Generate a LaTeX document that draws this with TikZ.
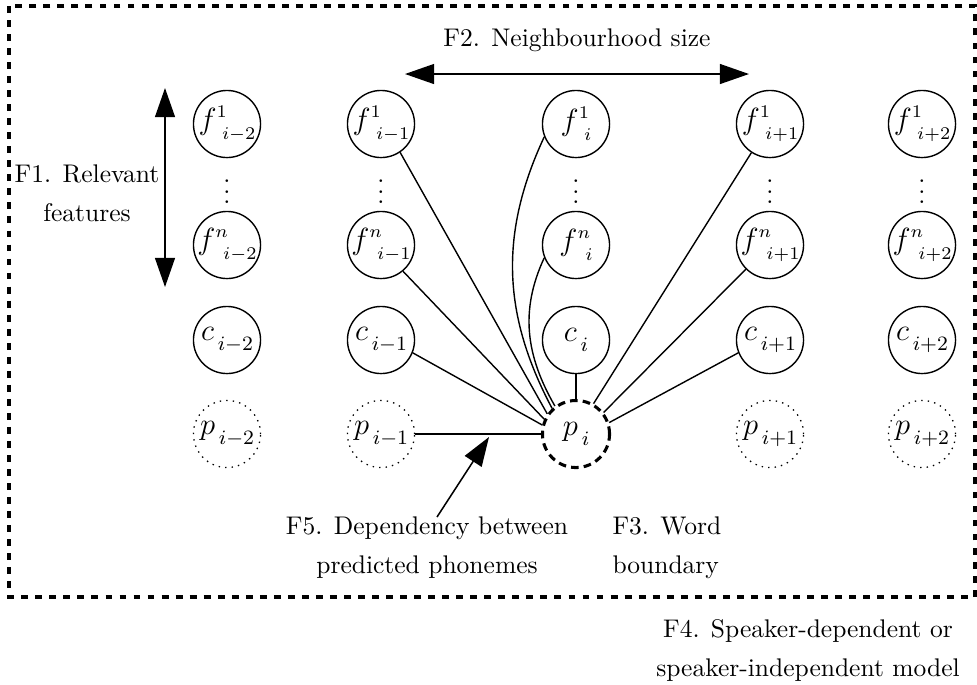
\documentclass[tikz,border=0pt]{standalone}
\usetikzlibrary{arrows.meta}
\newcommand\smallmath[1]{{\fontsize{7}{8}\selectfont$\medmuskip=0mu\thinmuskip=0mu #1$}}
\newcommand\fsub[2]{\makebox[0pt]{$f\/\raisebox{4.7pt}{\smallmath{#1}}\kern-1.9pt\raisebox{-4pt}{\smallmath{#2}}$}}
\newcommand\lsub[2]{\makebox[0pt]{$#1\kern1.5pt\raisebox{-4.2pt}{$\scriptstyle #2$}$}}
\begin{document}
\begin{tikzpicture}[x=0.392pt,y=-0.392pt,
  var/.style={circle,draw,line width=0.55pt,minimum size=26.3pt,inner sep=0pt,font=\large},
  pred/.style={var,dotted,line width=0.5pt},
  target/.style={var,line width=1.2pt,dash pattern=on 3pt off 2pt},
  dots/.style={inner sep=0pt},
  link/.style={line width=0.55pt},
  bigarrow/.style={line width=0.6pt,{Triangle[length=11.4pt,width=7.8pt]}-{Triangle[length=11.4pt,width=7.8pt]}},
  onearrow/.style={line width=0.6pt,-{Triangle[length=11.4pt,width=7.8pt]}},
  lbl/.style={align=center,font=\fontsize{10}{15.3}\selectfont,inner sep=0pt},
  frame/.style={line width=1.2pt,dash pattern=on 2.7pt off 2.8pt}]
\useasboundingbox (0,0) rectangle (977,684);
\draw[frame] (9,6) rectangle (975,597);

% column 1 (i-2)
\node[var]  (fa1) at (227,124) {\fsub{1}{i-2}};
\node[dots] (da)  at (227,184) {$\vdots$};
\node[var]  (fan) at (227,245) {\fsub{n}{i-2}};
\node[var]  (ca)  at (227,340) {\lsub{c}{i-2}};
\node[pred] (pa)  at (227,434) {\lsub{p}{i-2}};
% column 2 (i-1)
\node[var]  (fb1) at (381,124) {\fsub{1}{i-1}};
\node[dots] (db)  at (381,184) {$\vdots$};
\node[var]  (fbn) at (381,245) {\fsub{n}{i-1}};
\node[var]  (cb)  at (381,340) {\lsub{c}{i-1}};
\node[pred] (pb)  at (381,434) {\lsub{p}{i-1}};
% column 3 (i)
\node[var]  (fc1) at (576,124) {\fsub{1}{i}};
\node[dots] (dc)  at (576,184) {$\vdots$};
\node[var]  (fcn) at (576,245) {\fsub{n}{i}};
\node[var]  (cc)  at (576,340) {\lsub{c}{i}};
\node[target] (pc) at (576,434) {\lsub{p}{i}};
% column 4 (i+1)
\node[var]  (fd1) at (770,124) {\fsub{1}{i+1}};
\node[dots] (dd)  at (770,184) {$\vdots$};
\node[var]  (fdn) at (770,245) {\fsub{n}{i+1}};
\node[var]  (cd)  at (770,340) {\lsub{c}{i+1}};
\node[pred] (pd)  at (770,434) {\lsub{p}{i+1}};
% column 5 (i+2)
\node[var]  (fe1) at (922,124) {\fsub{1}{i+2}};
\node[dots] (de)  at (922,184) {$\vdots$};
\node[var]  (fen) at (922,245) {\fsub{n}{i+2}};
\node[var]  (ce)  at (922,340) {\lsub{c}{i+2}};
\node[pred] (pe)  at (922,434) {\lsub{p}{i+2}};

% connectors into p_i
\draw[link] (fb1.304) -- (pc.145);
\draw[link] (fbn.310) -- (pc.155);
\draw[link] (cb.338)  -- (pc.165);
\draw[link] (pb.east) -- (pc.west);
\draw[link] (fc1.202) to[out=245,in=118] (pc.133);
\draw[link] (fcn.202) to[out=245,in=120] (pc.127);
\draw[link] (cc.south) -- (pc.north);
\draw[link] (fd1.237) -- (pc.60);
\draw[link] (fdn.225) -- (pc.38);
\draw[link] (cd.202)  -- (pc.19);

% labels
\node[lbl] (F2) at (577,40) {F2. Neighbourhood size};
\node[lbl] (F1) at (87,193) {F1. Relevant\\features};
\node[lbl] (F5) at (427,548) {F5. Dependency between\\predicted phonemes};
\node[lbl,align=left,anchor=west] (F3) at (612,548) {F3. Word\\boundary};
\node[lbl] (F4) at (808,650) {F4. Speaker-dependent or\\speaker-independent model};

% big arrows
\coordinate (F2l) at (405,74);
\coordinate (F2r) at (749,74);
\draw[bigarrow] (F2l) -- (F2r);
\coordinate (F1t) at (165,88);
\coordinate (F1b) at (165,287);
\draw[bigarrow] (F1t) -- (F1b);
\coordinate (F5s) at (437,517);
\coordinate (F5tip) at (489,437);
\draw[onearrow] (F5s) -- (F5tip);
\end{tikzpicture}
\end{document}
